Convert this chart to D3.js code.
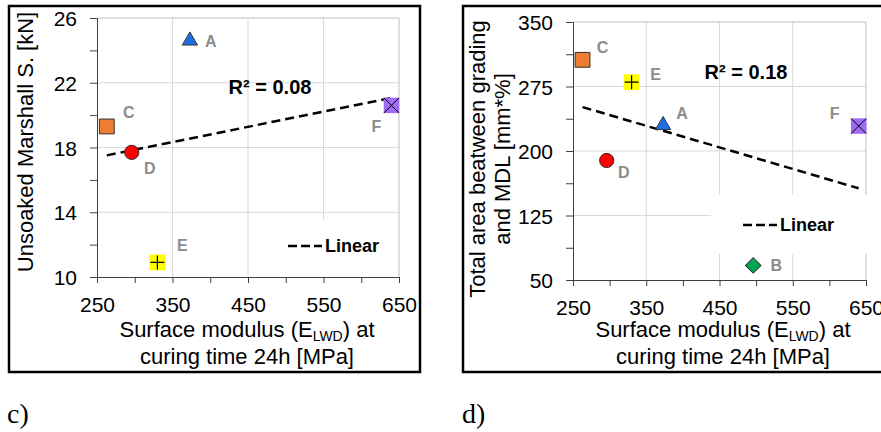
<!DOCTYPE html>
<html>
<head>
<meta charset="utf-8">
<script src="https://cdn.jsdelivr.net/npm/d3@7"></script>
<style>
    body { margin: 0; background: #fff; }
    svg { display: block; font-family: 'Liberation Sans', Arial, sans-serif; }
</style>
</head>
<body>
<div id="chart"></div>
<script>
// data
const mixLabels = ['A', 'B', 'C', 'D', 'E', 'F'];
const surfaceModulus = [373, 496, 263, 296, 330, 640];
const marshallStrength = [24.6, null, 19.3, 17.7, 10.9, 20.6];
const gradingArea = [230, 67, 306, 189, 280, 229];

const xTicks = [250, 350, 450, 550, 650];
const marshallTicks = [10, 14, 18, 22, 26];
const areaTicks = [50, 125, 200, 275, 350];

const width = 881;
const height = 432;

// marker look for each mix
const markerStyle = {
    A: { shape: d3.symbolTriangle, size: 100, fill: '#1e6fe6' },
    B: { shape: d3.symbolSquare, size: 120, fill: '#00a84f', rotate: 45 },
    C: { shape: d3.symbolSquare, size: 220, fill: '#ed7d31' },
    D: { shape: d3.symbolCircle, size: 160, fill: '#ff0000' },
    E: { shape: d3.symbolSquare, size: 250, fill: '#ffff00', stroke: 'none', mark: 'plus' },
    F: { shape: d3.symbolSquare, size: 240, fill: '#9e6cf7', stroke: 'none', mark: 'cross' }
};

const svg = d3.select('#chart')
    .append('svg')
    .attr('width', width)
    .attr('height', height);

function linearFit(pts) {
    let mx = d3.mean(pts, d => d.x);
    let my = d3.mean(pts, d => d.y);
    let sxy = d3.sum(pts, d => (d.x - mx) * (d.y - my));
    let sxx = d3.sum(pts, d => (d.x - mx) * (d.x - mx));
    let syy = d3.sum(pts, d => (d.y - my) * (d.y - my));
    let slope = sxy / sxx;
    return { slope: slope, icept: my - slope * mx, r2: sxy * sxy / (sxx * syy) };
}

function drawPanel(cfg) {
    let pts = mixLabels.map((l, i) => ({ label: l, x: surfaceModulus[i], y: cfg.values[i] }))
        .filter(d => d.y != null);

    let x = d3.scaleLinear().domain([250, 650]).range(cfg.xRange);
    let y = d3.scaleLinear().domain(d3.extent(cfg.yTicks)).range(cfg.yRange);
    let xStep = (xTicks[1] - xTicks[0]) / 2;
    let yStep = (cfg.yTicks[1] - cfg.yTicks[0]) / 2;

    let g = svg.append('g');

    // frame round the panel
    g.append('rect')
        .attr('x', cfg.frame[0]).attr('y', cfg.frame[1])
        .attr('width', cfg.frame[2]).attr('height', cfg.frame[3])
        .attr('fill', 'none')
        .attr('stroke', '#000')
        .attr('stroke-width', 2.5);

    // grid
    g.selectAll('.vgrid')
        .data(xTicks.slice(1, -1)).enter()
        .append('line')
        .attr('x1', d => x(d)).attr('x2', d => x(d))
        .attr('y1', y.range()[0]).attr('y2', y.range()[1])
        .attr('stroke', '#d9d9d9');
    g.selectAll('.hgrid')
        .data(cfg.yTicks.slice(1, -1)).enter()
        .append('line')
        .attr('x1', x.range()[0]).attr('x2', x.range()[1])
        .attr('y1', d => y(d)).attr('y2', d => y(d))
        .attr('stroke', '#d9d9d9');

    // plot area border (top, right)
    g.append('path')
        .attr('d', `M${x.range()[0]},${y.range()[1]}H${x.range()[1]}V${y.range()[0]}`)
        .attr('fill', 'none')
        .attr('stroke', '#bfbfbf');

    // legend box hides the grid behind it
    g.append('rect')
        .attr('x', cfg.legendBox[0]).attr('y', cfg.legendBox[1])
        .attr('width', cfg.legendBox[2]).attr('height', cfg.legendBox[3])
        .attr('fill', '#fff');

    let xAxis = d3.axisBottom(x)
        .tickValues(d3.range(250, 651, xStep))
        .tickSize(6)
        .tickFormat(d => xTicks.includes(d) ? d : '');
    let yAxis = d3.axisLeft(y)
        .tickValues(d3.range(cfg.yTicks[0], cfg.yTicks[cfg.yTicks.length - 1] + 1, yStep))
        .tickSize(7)
        .tickFormat(d => cfg.yTicks.includes(d) ? d : '');

    let gx = g.append('g')
        .attr('transform', `translate(0,${y.range()[0]})`)
        .call(xAxis);
    let gy = g.append('g')
        .attr('transform', `translate(${x.range()[0]},0)`)
        .call(yAxis);
    [gx, gy].forEach(a => {
        a.select('.domain').attr('stroke', '#404040');
        a.selectAll('.tick line').attr('stroke', '#404040');
        a.selectAll('.tick text')
            .attr('font-family', 'Liberation Sans, Arial, sans-serif')
            .attr('font-size', 21)
            .attr('fill', '#000');
    });
    gx.selectAll('.tick text').attr('dy', null).attr('y', 35);
    gy.selectAll('.tick text').attr('x', -20).attr('dy', '0.36em');

    // trend line
    let fit = linearFit(pts);
    let xr = d3.extent(pts, d => d.x);
    g.append('line')
        .attr('x1', x(xr[0])).attr('y1', y(fit.icept + fit.slope * xr[0]))
        .attr('x2', x(xr[1])).attr('y2', y(fit.icept + fit.slope * xr[1]))
        .attr('stroke', '#000')
        .attr('stroke-width', 2.5)
        .attr('stroke-dasharray', '9,5');

    g.append('text')
        .attr('x', cfg.r2Pos[0]).attr('y', cfg.r2Pos[1])
        .attr('text-anchor', 'middle')
        .attr('font-size', 20)
        .attr('font-weight', 'bold')
        .text('R² = ' + fit.r2.toFixed(2));

    // legend
    g.append('line')
        .attr('x1', cfg.legendPos[0]).attr('x2', cfg.legendPos[0] + 34)
        .attr('y1', cfg.legendPos[1] - 6).attr('y2', cfg.legendPos[1] - 6)
        .attr('stroke', '#000')
        .attr('stroke-width', 2.5)
        .attr('stroke-dasharray', '9,4');
    g.append('text')
        .attr('x', cfg.legendPos[0] + 37).attr('y', cfg.legendPos[1])
        .attr('font-size', 18)
        .attr('font-weight', 'bold')
        .text('Linear');

    // markers
    let mk = g.selectAll('.mark')
        .data(pts).enter()
        .append('g')
        .attr('transform', d => `translate(${x(d.x)},${y(d.y)})`);
    mk.append('path')
        .attr('d', d => d3.symbol(markerStyle[d.label].shape, markerStyle[d.label].size)())
        .attr('transform', d => `rotate(${markerStyle[d.label].rotate || 0})`)
        .attr('fill', d => markerStyle[d.label].fill)
        .attr('stroke', d => markerStyle[d.label].stroke || '#333')
        .attr('stroke-width', 1);
    mk.filter(d => markerStyle[d.label].mark === 'plus')
        .append('path')
        .attr('d', 'M-7,0H7M0,-7V7')
        .attr('stroke', '#000')
        .attr('stroke-width', 1.2);
    mk.filter(d => markerStyle[d.label].mark === 'cross')
        .append('path')
        .attr('d', 'M-7.5,-7.5L7.5,7.5M7.5,-7.5L-7.5,7.5')
        .attr('stroke', '#000')
        .attr('stroke-width', 1);
    mk.append('text')
        .attr('x', d => cfg.labelOffset[d.label][0])
        .attr('y', d => cfg.labelOffset[d.label][1])
        .attr('dy', '0.36em')
        .attr('text-anchor', 'middle')
        .attr('font-size', 16)
        .attr('font-weight', 'bold')
        .attr('fill', '#8c8c8c')
        .text(d => d.label);

    // x title, two lines
    g.append('text')
        .attr('x', cfg.xTitleX).attr('y', 337)
        .attr('text-anchor', 'middle')
        .attr('font-size', 22)
        .call(t => {
            t.append('tspan').text('Surface modulus (E');
            t.append('tspan').attr('font-size', 14).attr('dy', 4).text('LWD');
            t.append('tspan').attr('dy', -4).text(') at');
        });
    g.append('text')
        .attr('x', cfg.xTitleX).attr('y', 364)
        .attr('text-anchor', 'middle')
        .attr('font-size', 22)
        .text('curing time 24h [MPa]');

    // y title
    cfg.yTitle.forEach((t, i) => {
        g.append('text')
            .attr('transform', `translate(${cfg.yTitlePos[0] + (i - cfg.yTitle.length + 1) * 25},${cfg.yTitlePos[1]}) rotate(-90)`)
            .attr('text-anchor', 'middle')
            .attr('font-size', 22)
            .text(t);
    });

    // panel letter
    g.append('text')
        .attr('x', cfg.letterX).attr('y', 423)
        .attr('font-family', 'Liberation Serif, Times New Roman, serif')
        .attr('font-size', 28)
        .text(cfg.letter);
}

drawPanel({
    values: marshallStrength,
    yTicks: marshallTicks,
    xRange: [97, 399],
    yRange: [277, 18],
    frame: [9, 6, 411, 366],
    legendBox: [270, 220, 128, 56],
    legendPos: [288, 252],
    r2Pos: [270, 94],
    xTitleX: 247,
    yTitlePos: [33, 142],
    yTitle: ['Unsoaked Marshall S. [kN]'],
    letter: 'c)',
    letterX: 7,
    labelOffset: { A: [21, 1], C: [22, -14], D: [18, 16], E: [25, -17], F: [-15, 21] }
});

drawPanel({
    values: gradingArea,
    yTicks: areaTicks,
    xRange: [573, 866],
    yRange: [280, 22],
    frame: [463, 6, 440, 366],
    legendBox: [711, 195, 157, 59],
    legendPos: [743, 231],
    r2Pos: [746, 79],
    xTitleX: 723,
    yTitlePos: [510, 159],
    yTitle: ['Total area beatween grading', 'and MDL [mm*%]'],
    letter: 'd)',
    letterX: 462,
    labelOffset: { A: [19, -12], B: [23, 0], C: [20, -13], D: [17, 12], E: [24, -8], F: [-24, -13] }
});
</script>
</body>
</html>
